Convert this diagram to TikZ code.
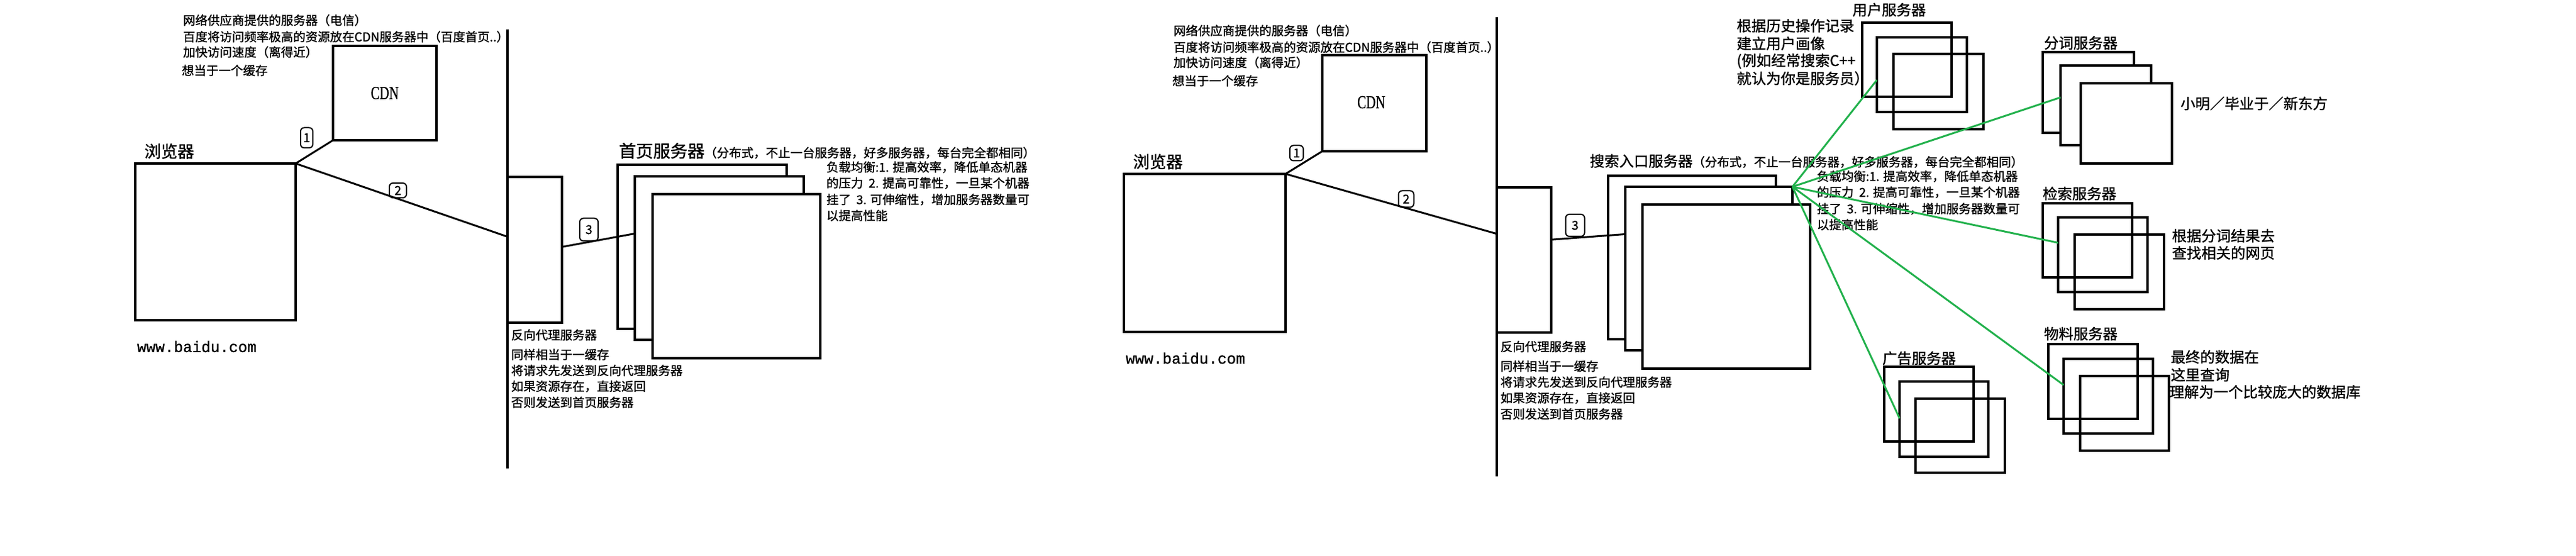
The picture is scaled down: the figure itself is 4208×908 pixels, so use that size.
\documentclass[tikz,border=0pt]{standalone}
\usepackage{fontspec}
\setmainfont{Noto Sans CJK SC}[FakeBold=1.2]
\newfontfamily\monofont{Liberation Mono}[FakeBold=1]
\newfontfamily\cdnfont{Liberation Serif}[FakeBold=0.8]
\usetikzlibrary{calc}
\definecolor{pgreen}{RGB}{34,177,76}
\newcommand\mkbox[6]{\node[#6, minimum width={(#4-#2)*0.25pt}, minimum height={(#5-#3)*0.25pt}] (#1) at ({(#2+#4)/2},{(#3+#5)/2}) {};}
\begin{document}
\begin{tikzpicture}[x=0.25pt,y=-0.25pt,
  box/.style={draw=black, line width=1.125pt, inner sep=0pt, outer sep=0pt, rectangle},
  wbox/.style={box, fill=white},
  conn/.style={draw=black, line width=0.75pt},
  gconn/.style={draw=pgreen, line width=0.75pt},
  sepline/.style={draw=black, line width=1.125pt},
  tA/.style={inner sep=0pt, outer sep=0pt, anchor=west, font=\fontsize{5pt}{6pt}\selectfont},
  tB/.style={tA, font=\fontsize{6pt}{7pt}\selectfont},
  tC/.style={tA, font=\fontsize{6.75pt}{8pt}\selectfont},
  url/.style={tA, font=\monofont\fontsize{6.25pt}{7pt}\selectfont},
  cdnlbl/.style={inner sep=0pt, font=\cdnfont\fontsize{7.5pt}{8pt}\selectfont},
  num/.style={draw, line width=0.5pt, rounded corners=1.5pt, inner sep=0pt, font=\fontsize{5pt}{6pt}\selectfont}
]
\fill[white] (0,0) rectangle (4208,908);
\useasboundingbox (0,0) rectangle (4208,908);

% ================= LEFT DIAGRAM =================
\node[tA] (lt1) at (299,33) {网络供应商提供的服务器（电信）};
\node[tA] (lt2) at (299,60) {百度将访问频率极高的资源放在CDN服务器中（百度首页..）};
\node[tA] (lt3) at (299,85) {加快访问速度（离得近）};
\node[tA] (lt4) at (297,115) {想当于一个缓存};
\node[tC] (lbrl) at (236,247) {浏览器};
\node[url] (lurl) at (224,566) {www.baidu.com};
\node[tA] (lp1) at (835,547) {反向代理服务器};
\node[tA] (lp2) at (835,579) {同样相当于一缓存};
\node[tA] (lp3) at (835,605) {将请求先发送到反向代理服务器};
\node[tA] (lp4) at (835,631) {如果资源存在，直接返回};
\node[tA] (lp5) at (835,657) {否则发送到首页服务器};
\node[inner sep=0pt, outer sep=0pt, anchor=base west] (ltitle) at (1011,257)
  {{\fontsize{7pt}{8pt}\selectfont 首页服务器}{\fontsize{5pt}{6pt}\selectfont（分布式，不止一台服务器，好多服务器，每台完全都相同）}};
\node[tA] (ll1) at (1350,273) {负载均衡:1. 提高效率，降低单态机器};
\node[tA] (ll2) at (1350,299) {的压力\ \ 2. 提高可靠性，一旦某个机器};
\node[tA] (ll3) at (1350,326) {挂了\ \ 3. 可伸缩性，增加服务器数量可};
\node[tA] (ll4) at (1350,352) {以提高性能};

\mkbox{cdnL}{544}{75}{713}{229}{box}
\node[cdnlbl] (cdnLt) at (cdnL.center) {\scalebox{0.72}[1]{CDN}};
\mkbox{browserL}{221}{267}{483}{523}{box}
\coordinate (vLt) at (829,48);
\coordinate (vLb) at (829,765);
\draw[sepline] (vLt) -- (vLb);
\mkbox{proxyL}{829}{289}{918}{527}{box}
\mkbox{homeA}{1009}{269}{1285}{537}{wbox}
\mkbox{homeB}{1037}{288}{1313}{555}{wbox}
\mkbox{homeC}{1066}{317}{1340}{585}{wbox}

\draw[conn] (browserL.north east) -- (cdnL.south west);
\draw[conn] (browserL.north east) -- ($(proxyL.north west)!0.41!(proxyL.south west)$);
\draw[conn] ($(proxyL.north east)!0.48!(proxyL.south east)$) -- ($(homeB.north west)!0.35!(homeB.south west)$);
\node[num, minimum width=5pt, minimum height=8.25pt] (n1L) at (501,225) {1};
\node[num, minimum width=7pt, minimum height=6pt] (n2L) at (650,311) {2};
\node[num, minimum width=7.5pt, minimum height=9.25pt] (n3L) at (962,375) {3};

% ================= RIGHT DIAGRAM =================
\node[tA] (rt1) at (1917,50) {网络供应商提供的服务器（电信）};
\node[tA] (rt2) at (1917,77) {百度将访问频率极高的资源放在CDN服务器中（百度首页..）};
\node[tA] (rt3) at (1917,102) {加快访问速度（离得近）};
\node[tA] (rt4) at (1915,132) {想当于一个缓存};
\node[tC] (rbrl) at (1851,264) {浏览器};
\node[url] (rurl) at (1839,585) {www.baidu.com};
\node[tA] (rp1) at (2451,566) {反向代理服务器};
\node[tA] (rp2) at (2451,598) {同样相当于一缓存};
\node[tA] (rp3) at (2451,624) {将请求先发送到反向代理服务器};
\node[tA] (rp4) at (2451,650) {如果资源存在，直接返回};
\node[tA] (rp5) at (2451,676) {否则发送到首页服务器};
\node[inner sep=0pt, outer sep=0pt, anchor=base west] (rtitle) at (2597,272)
  {{\fontsize{6pt}{7pt}\selectfont 搜索入口服务器}{\fontsize{5pt}{6pt}\selectfont（分布式，不止一台服务器，好多服务器，每台完全都相同）}};
\node[tA] (rl1) at (2968,288) {负载均衡:1. 提高效率，降低单态机器};
\node[tA] (rl2) at (2968,314) {的压力\ \ 2. 提高可靠性，一旦某个机器};
\node[tA] (rl3) at (2968,341) {挂了\ \ 3. 可伸缩性，增加服务器数量可};
\node[tA] (rl4) at (2968,367) {以提高性能};

\node[tB] (ulbl) at (3026,16) {用户服务器};
\node[tB] (ut1) at (2837,42) {根据历史操作记录};
\node[tB] (ut2) at (2837,71) {建立用户画像};
\node[tB] (ut3) at (2837,100) {(例如经常搜索C++};
\node[tB] (ut4) at (2837,128) {就认为你是服务员）};
\node[tB] (slbl) at (3339,70) {分词服务器};
\node[tB] (stxt) at (3562,169) {小明／毕业于／新东方};
\node[tB] (qlbl) at (3337,316) {检索服务器};
\node[tB] (qt1) at (3548,385) {根据分词结果去};
\node[tB] (qt2) at (3548,413) {查找相关的网页};
\node[tB] (albl) at (3075,585) {广告服务器};
\node[tB] (mlbl) at (3339,545) {物料服务器};
\node[tB] (mt1) at (3546,583) {最终的数据在};
\node[tB] (mt2) at (3546,612) {这里查询};
\node[tB] (mt3) at (3544,640) {理解为一个比较庞大的数据库};

\mkbox{cdnR}{2160}{90}{2330}{247}{box}
\node[cdnlbl] (cdnRt) at (2240,167) {\scalebox{0.72}[1]{CDN}};
\mkbox{browserR}{1836}{284}{2100}{542}{box}
\coordinate (vRt) at (2445,28);
\coordinate (vRb) at (2445,778);
\draw[sepline] (vRt) -- (vRb);
\mkbox{proxyR}{2445}{306}{2534}{543}{box}
\mkbox{srchA}{2627}{287}{2901}{554}{wbox}
\mkbox{srchB}{2655}{305}{2928}{572}{wbox}
\mkbox{srchC}{2683}{334}{2957}{602}{wbox}

\mkbox{userA}{3042}{37}{3188}{158}{box}
\mkbox{userB}{3066}{61}{3213}{183}{box}
\mkbox{userC}{3093}{88}{3240}{211}{box}
\mkbox{segA}{3337}{85}{3486}{217}{wbox}
\mkbox{segB}{3366}{107}{3514}{237}{wbox}
\mkbox{segC}{3399}{136}{3548}{267}{wbox}
\mkbox{retA}{3337}{332}{3483}{453}{box}
\mkbox{retB}{3362}{355}{3508}{477}{box}
\mkbox{retC}{3389}{383}{3535}{505}{box}
\mkbox{adA}{3078}{599}{3224}{721}{box}
\mkbox{adB}{3103}{623}{3248}{746}{box}
\mkbox{adC}{3129}{651}{3275}{772}{box}
\mkbox{matA}{3346}{562}{3492}{684}{box}
\mkbox{matB}{3371}{586}{3517}{708}{box}
\mkbox{matC}{3398}{614}{3543}{736}{box}

\draw[conn] (browserR.north east) -- (cdnR.south west);
\draw[conn] (browserR.north east) -- ($(proxyR.north west)!0.32!(proxyR.south west)$);
\draw[conn] ($(proxyR.north east)!0.36!(proxyR.south east)$) -- ($(srchB.north west)!0.29!(srchB.south west)$);
\node[num, minimum width=5.5pt, minimum height=6.25pt] (n1R) at (2118,250) {1};
\node[num, minimum width=6.25pt, minimum height=6.75pt] (n2R) at (2297,325) {2};
\node[num, minimum width=7.75pt, minimum height=9pt] (n3R) at (2573,368) {3};

\draw[gconn] (srchB.north east) -- ($(userB.north west)!0.57!(userB.south west)$);
\draw[gconn] (srchB.north east) -- ($(segB.north west)!0.40!(segB.south west)$);
\draw[gconn] (srchB.north east) -- ($(retB.north west)!0.34!(retB.south west)$);
\draw[gconn] (srchB.north east) -- ($(matB.north west)!0.35!(matB.south west)$);
\draw[gconn] (srchB.north east) -- ($(adB.north west)!0.49!(adB.south west)$);
\end{tikzpicture}
\end{document}
